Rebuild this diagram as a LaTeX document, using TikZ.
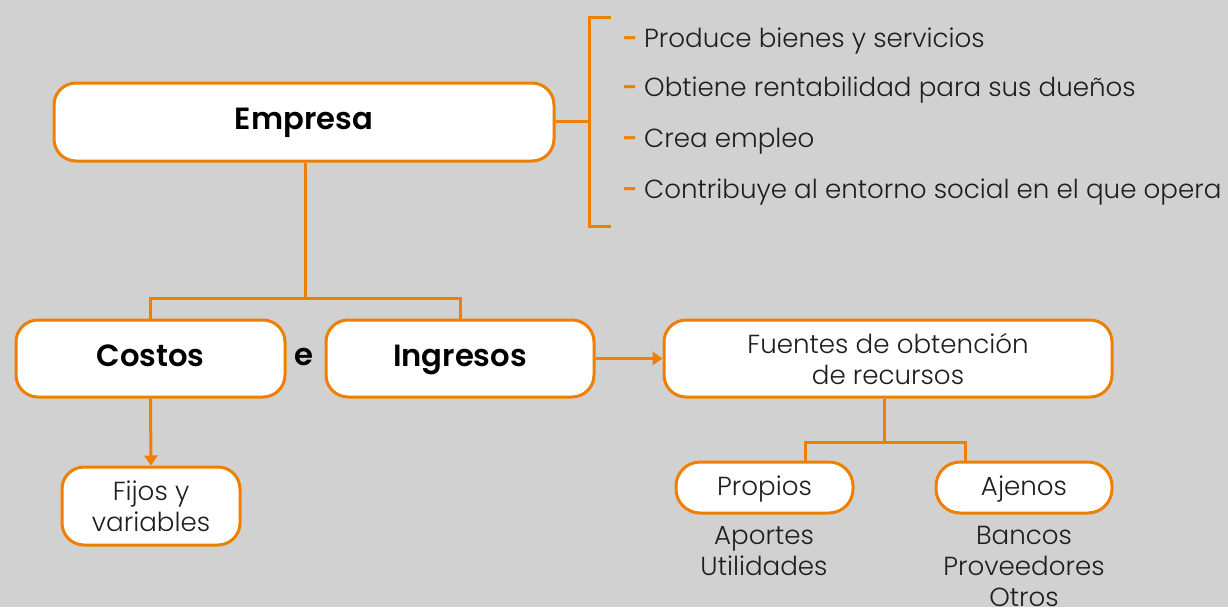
\documentclass[tikz,border=0pt]{standalone}
\usepackage{fontspec}
\usetikzlibrary{arrows.meta}
\newfontfamily\lightf{Poppins Light}
\newfontfamily\boldf{Poppins SemiBold}
\definecolor{or}{RGB}{239,127,0}
\definecolor{bg}{RGB}{209,209,209}
\definecolor{tx}{RGB}{30,30,30}
\begin{document}
\begin{tikzpicture}[x=0.75pt,y=-0.75pt,
  line/.style={draw=or,line width=2.25pt},
  arr/.style={line,-{Triangle[length=7.5pt,width=10pt]}},
  box/.style={draw=or,line width=2.25pt,fill=white,rounded corners=16.5pt,align=center,inner sep=0pt},
  pill/.style={box,rounded corners=18pt},
  one/.style={text height=1.18em,text depth=0.02em},
  btxt/.style={font=\boldf\fontsize{23}{28}\selectfont,text=black,one},
  ltxt/.style={font=\lightf\fontsize{19.6}{23.25}\selectfont,text=tx,align=center,inner sep=0pt},
]
\path[use as bounding box,fill=bg] (0,0) rectangle (1228,607);
% main boxes
\node[box,btxt,minimum width=375pt,minimum height=58.5pt] (emp) at (304,122) {Empresa};
\node[box,btxt,minimum width=201.75pt,minimum height=57.75pt] (cos) at (150.5,358.5) {Costos};
\node[box,btxt,minimum width=201pt,minimum height=57.75pt] (ing) at (460,358.5) {Ingresos};
\node[btxt,inner sep=0pt] (e) at (304,358) {e};
\node[box,ltxt,minimum width=133.5pt,minimum height=58.5pt] (fij) at (151,506) {Fijos y\\variables};
\node[box,ltxt,minimum width=336pt,minimum height=57.75pt] (fue) at (888,358.5) {Fuentes de obtención\\de recursos};
\node[pill,ltxt,one,minimum width=132.75pt,minimum height=38.25pt] (pro) at (764.5,487.5) {Propios};
\node[pill,ltxt,one,minimum width=132pt,minimum height=38.25pt] (aje) at (1024,487.5) {Ajenos};
\node[ltxt,anchor=north] (prol) at (764,526) {Aportes\\Utilidades};
\node[ltxt,anchor=north] (ajel) at (1024,526) {Bancos\\Proveedores\\Otros};
% bullet list
\foreach \y/\t/\n in {40/Produce bienes y servicios/b1,89/Obtiene rentabilidad para sus dueños/b2,140/Crea empleo/b3,191/Contribuye al entorno social en el que opera/b4}
  \node[ltxt,one,anchor=west] (\n) at (622,\y) {\textcolor{or}{\boldf -}\hspace{5pt}\t};
% connectors
\coordinate (j1) at (305,298);
\draw[line] (emp.south -| j1) -- (j1);
\draw[line] (cos.north) |- (j1) -| (ing.north);
\coordinate (bm) at (589,121);
\coordinate (bt) at (611,17);
\coordinate (bb) at (611,226);
\draw[line] (emp.east |- bm) -- (bm);
\draw[line] (bt) -| (bm) |- (bb);
\draw[arr] (cos.south) -- (fij.north);
\draw[arr] (ing.east) -- (fue.west);
\coordinate (fj) at (884,442);
\coordinate (pa) at (805,442);
\coordinate (aa) at (965,442);
\draw[line] (fue.south -| fj) -- (fj);
\draw[line] (pro.north -| pa) -- (pa) -- (aa) -- (aje.north -| aa);
\end{tikzpicture}
\end{document}
